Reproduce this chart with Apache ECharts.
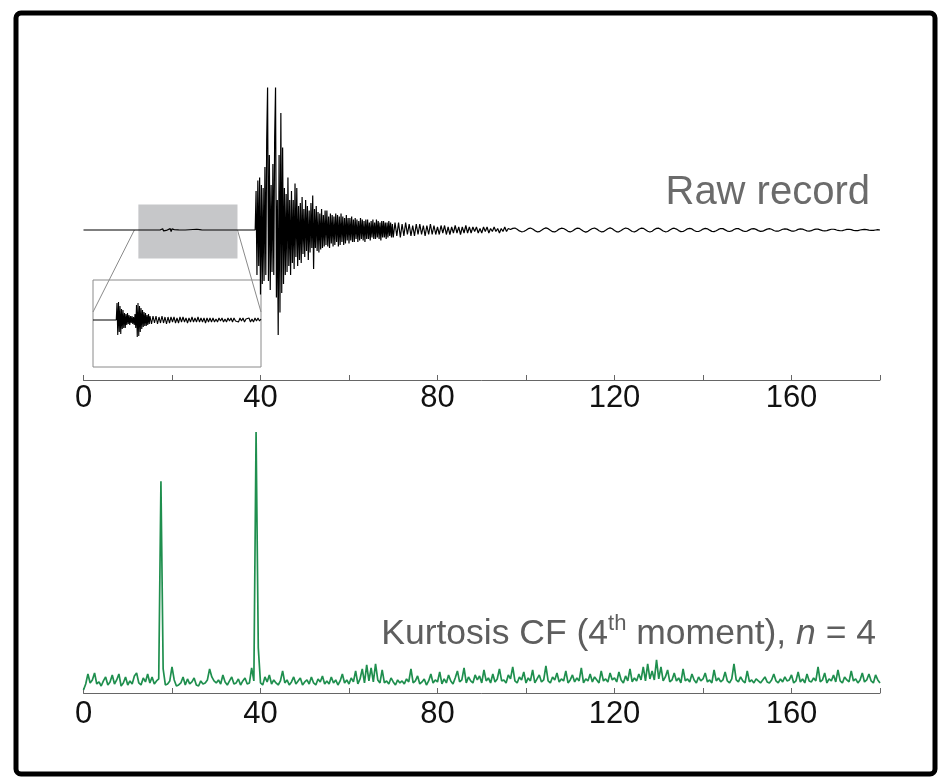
<!DOCTYPE html>
<html>
<head>
<meta charset="utf-8">
<script src="https://cdn.jsdelivr.net/npm/echarts@6/dist/echarts.min.js"></script>
<style>
  html, body { margin: 0; padding: 0; background: #fff; }
  #main { width: 938px; height: 777px; }
</style>
</head>
<body>
<div id="main"></div>
<script>
// time axis (s)
var xTicks = [0, 40, 80, 120, 160];

// raw record, quiet part before the main arrival: [t, amplitude]
var rawPre = [[0, 0], [17.3, 0], [17.5, 1.2], [17.7, -1.0], [17.9, 0.8], [18.1, -0.6], [18.4, 0.4],
  [18.7, -0.3], [19.0, 0.2], [19.6, 0.9], [19.8, -1.0], [20.0, 0.7], [20.2, -0.5], [20.5, 0.3],
  [20.9, -0.2], [21.5, 0.1], [23, 0], [25.6, 0.5], [25.9, -0.5], [26.3, 0.3], [26.8, 0], [38.8, 0]];

// raw record, main arrival: starts 38.8 s, one sample every 0.2 s
var rawOnset = [
  0, 26, -30, 33, -24, 35, -43, 30, -36, 28,
  -34, 42, -30, 60, 95, -34, 50, -40, 30, -28,
  44, -30, 62, 95, -45, 20, -70, 50, -55, 78,
  -42, 55, -36, 28, -30, 24, -28, 35, -24, 20,
  -30, 26, -22, 20, -26, 31, -18, 28, -24, 16,
  -20, 18, -22, 22, -16, 14, -18, 20, -14, 16,
  -20, 13, -15, 18, -12, 23, -26, 14, -12, 16,
  -14, 12, -15, 11, -13, 14, -12, 10, -11, 13,
  -10, 13, -11, 9, -12, 11, -9, 10, -11, 9,
  -10, 11, -8, 10, -11, 9, -10, 11, -8, 9,
  -10, 8, -9, 10, -7, 8, -9, 8, -7, 9,
  -8, 7, -8, 8, -6, 7, -8, 6, -7, 8,
  -6, 7, -7, 6, -8, 7, -6, 7, -6, 5,
  -7, 6, -5, 7, -6, 5, -6, 7, -5, 6,
  -6, 5, -7, 6, -5, 6, -5, 5, -6, 5,
  -5, 6, -4, 5, -5, 4, -5
];

// raw record, coda: starts 70.4 s, every 0.4 s
var rawCoda = [
  5, -4, 5, -5, 4, -4, 5, -3, 4, -4,
  3, -4, 4, -3, 4, -3, 3, -4, 3, -3,
  4, -3, 3, -3, 2, -3, 3, -2, 3, -3,
  2, -3, 2, -2, 3, -2, 2, -3, 2, -2,
  3, -2, 2, -2, 2, -1, 2, -2, 1, -2,
  2, -1, 2, -2, 1, -1, 2, -1, 1, -2,
  1, -1, 2, -1, 1
];

// raw record, long-period tail: starts 96.5 s, every 0.5 s
var rawTail = [
  0.3, 1.1, 1.3, 0.5, -0.6, -1.2, -1.0, -0.1, 0.9, 1.3, 0.7, -0.4,
  -1.2, -1.1, -0.2, 0.8, 1.4, 0.9, -0.2, -1.1, -1.3, -0.5, 0.6, 1.2,
  1.0, 0.1, -0.9, -1.3, -0.7, 0.4, 1.2, 1.1, 0.2, -0.8, -1.4, -0.9,
  0.1, 1.0, 1.3, 0.6, -0.5, -1.2, -1.1, -0.2, 0.8, 1.4, 0.8, -0.3,
  -1.2, -1.2, -0.3, 0.7, 1.3, 1.0, 0.0, -1.0, -1.3, -0.6, 0.5, 1.2,
  1.1, 0.2, -0.8, -1.3, -0.8, 0.3, 1.1, 1.2, 0.4, -0.7, -1.2, -1.0,
  0.0, 0.9, 1.2, 0.6, -0.4, -1.1, -1.0, -0.2, 0.8, 1.1, 0.7, -0.3,
  -1.0, -1.0, -0.3, 0.6, 1.1, 0.8, -0.1, -0.9, -1.1, -0.5, 0.4, 1.0,
  0.9, 0.1, -0.7, -1.0, -0.6, 0.3, 0.9, 0.9, 0.2, -0.6, -1.0, -0.7,
  0.1, 0.8, 0.9, 0.4, -0.4, -0.9, -0.8, -0.1, 0.6, 0.9, 0.5, -0.3,
  -0.8, -0.8, -0.2, 0.5, 0.8, 0.6, -0.1, -0.7, -0.8, -0.3, 0.4, 0.7,
  0.6, 0.0, -0.6, -0.7, -0.4, 0.2, 0.6, 0.6, 0.1, -0.4, -0.6, -0.4,
  0.1, 0.5, 0.5, 0.2, -0.3, -0.5, -0.4, 0.0, 0.4, 0.5, 0.2, -0.2,
  -0.4, -0.4, 0.0, 0.3, 0.4, 0.2, -0.1, -0.3, -0.3, 0.0, 0.2, 0.0
];

// zoomed window shown in the inset (s)
var insetRange = [12.4, 34.8];
var insetPre = [[12.4, 0], [15.5, 0]];
// inset, two small arrivals: starts 15.6 s, every 0.1 s
var insetBurst = [
  17, -15, 18, -12, 14, -14, 11, -9, 10, -8,
  7, -8, 6, -5, 7, -4, 5, -5, 4, -3,
  4, -4, 3, -5, 6, -8, 15, -17, 17, -16,
  14, -12, 12, -9, 10, -7, 8, -6, 7, -6,
  5, -5, 6, -4, 4
];
// inset tail: starts 20.2 s, every 0.2 s
var insetTail = [
  -4, 4, -3, 4, -4, 3, -3, 4, -3, 3, -4, 3, -3, 3, -2, 3, -3, 2, -3, 3,
  -2, 3, -2, 2, -3, 2, -2, 3, -2, 2, -2, 3, -2, 2, -2, 2, -3, 2, -2, 2, -2,
  2, -2, 1, -2, 2, -1, 2, -2, 1, -2, 2, -1, 2, -2, 2, -1, 1, -2, 2, -1, 2,
  -2, 1, -1, 2, -2, 1, -2, 2, -1, 2, -1, 1
];

// kurtosis characteristic function: starts 0 s, every 0.5 s
var kurtosis = [
  0.3, 0.9, 1.9, 1.0, 1.3, 2.0, 0.9, 1.1, 0.7, 1.2,
  1.6, 0.8, 1.1, 1.8, 0.9, 1.3, 1.9, 0.7, 1.0, 1.6,
  0.8, 1.2, 0.9, 1.7, 2.0, 1.0, 0.8, 1.5, 1.1, 1.9,
  1.0, 1.6, 0.9, 1.2, 1.4, 21.1, 2.4, 0.8, 0.9, 1.2,
  2.6, 1.3, 0.7, 0.8, 1.0, 1.6, 0.8, 1.4, 0.9, 1.1,
  1.5, 0.8, 0.7, 1.2, 0.9, 1.0, 1.3, 2.4, 1.6, 1.2,
  1.0, 1.3, 0.9, 1.8, 1.1, 0.8, 1.2, 1.6, 0.9, 1.0,
  1.4, 0.8, 1.2, 1.5, 0.9, 1.0, 2.5, 1.2, 26.0, 4.5,
  1.0, 0.8, 1.6, 1.1, 1.8, 0.9, 1.3, 1.0, 0.8, 1.2,
  2.2, 1.0, 1.3, 0.8, 1.1, 1.6, 0.9, 1.2, 1.5, 0.8,
  1.1, 1.3, 0.9, 1.6, 1.0, 0.8, 1.4, 1.1, 1.7, 0.9,
  1.2, 0.9, 1.6, 1.0, 1.3, 0.8, 1.2, 1.9, 1.0, 1.3,
  0.9, 1.5, 1.1, 2.2, 0.9, 1.4, 2.4, 1.0, 2.8, 1.2,
  2.5, 1.1, 2.9, 1.3, 1.0, 2.3, 1.0, 1.2, 0.9, 1.5,
  1.1, 0.8, 1.3, 1.0, 1.2, 0.9, 1.4, 1.1, 2.4, 1.0,
  1.2, 1.7, 0.9, 1.1, 1.4, 0.8, 1.2, 1.9, 1.0, 1.3,
  1.1, 2.1, 0.9, 1.4, 1.0, 1.8, 1.2, 0.9, 1.5, 2.2,
  1.1, 1.3, 2.5, 1.0, 1.6, 1.2, 1.0, 1.8, 1.3, 1.7,
  1.0, 2.3, 1.2, 1.5, 1.0, 1.9, 1.1, 1.4, 2.4, 1.2,
  1.3, 1.0, 1.8, 1.4, 2.6, 1.2, 1.0, 1.6, 1.3, 2.1,
  1.0, 1.5, 1.2, 2.3, 1.0, 1.4, 1.8, 1.1, 1.3, 2.7,
  1.2, 1.0, 1.6, 1.3, 2.0, 1.1, 1.4, 1.2, 2.2, 1.0,
  1.3, 1.8, 1.1, 1.5, 1.2, 2.5, 1.0, 1.4, 1.2, 1.9,
  1.1, 1.6, 1.3, 1.0, 2.2, 1.2, 1.4, 1.1, 2.0, 1.3,
  1.5, 1.1, 2.1, 1.3, 1.0, 1.7, 1.2, 2.4, 1.1, 1.5,
  1.2, 1.9, 1.3, 2.6, 1.2, 2.9, 1.4, 2.2, 1.3, 3.3,
  1.4, 2.6, 1.2, 1.6, 2.3, 1.1, 1.3, 2.0, 1.2, 1.5,
  1.0, 2.4, 1.2, 1.4, 1.1, 1.9, 1.3, 1.0, 1.6, 1.2,
  1.4, 2.0, 1.1, 1.3, 1.0, 2.3, 1.2, 1.5, 1.1, 1.3,
  2.1, 1.2, 1.0, 1.4, 2.9, 1.3, 1.1, 1.6, 1.2, 1.0,
  2.2, 1.1, 1.3, 1.0, 1.4, 1.2, 1.0, 1.3, 1.6, 1.1,
  1.0, 1.3, 1.9, 1.2, 1.0, 1.4, 1.1, 1.6, 1.2, 1.3,
  1.8, 1.0, 1.2, 2.1, 1.1, 1.4, 1.0, 1.9, 1.2, 1.1,
  1.5, 1.2, 2.6, 1.1, 1.3, 2.0, 1.0, 1.4, 1.2, 1.8,
  1.1, 2.3, 1.2, 1.0, 1.6, 1.3, 1.1, 2.2, 1.2, 1.4,
  1.0, 1.3, 2.0, 1.1, 1.3, 1.9, 1.2, 1.0, 1.8, 1.3, 1.0
];

function seg(start, step, vals) {
  return vals.map(function (v, i) {
    return [Math.round((start + i * step) * 100) / 100, v];
  });
}

var rawData = rawPre
  .concat(seg(39.0, 0.2, rawOnset.slice(1)))
  .concat(seg(70.4, 0.4, rawCoda))
  .concat(seg(96.5, 0.5, rawTail));
var insetData = insetPre
  .concat(seg(15.6, 0.1, insetBurst))
  .concat(seg(20.2, 0.2, insetTail));
var kurtData = seg(0, 0.5, kurtosis);

var tickFont = "Liberation Sans, Arial, sans-serif";

function timeAxis(gridIndex, margin) {
  return {
    type: "value",
    gridIndex: gridIndex,
    min: 0,
    max: 180,
    interval: 20,
    axisLine: { show: true, onZero: false, lineStyle: { color: "#666", width: 1 } },
    axisTick: { show: true, inside: true, length: 5, lineStyle: { color: "#666" } },
    splitLine: { show: false },
    axisLabel: {
      margin: margin,
      fontSize: 31,
      fontFamily: tickFont,
      color: "#111",
      formatter: function (v) {
        return xTicks.indexOf(v) >= 0 ? String(v) : "";
      }
    }
  };
}

var myChart = echarts.init(document.getElementById("main"), null, { renderer: "canvas" });

var myOption = {
  animation: false,
  backgroundColor: "#fff",
  grid: [
    { left: 83.5, right: 58, top: 80, height: 300 },
    { left: 83.5, right: 58, top: 432, bottom: 84 },
    { left: 93, top: 280, width: 168, height: 87, show: true, borderColor: "#8a8a8a", borderWidth: 1, backgroundColor: "transparent" }
  ],
  xAxis: [
    timeAxis(0, 3),
    timeAxis(1, 6),
    { type: "value", gridIndex: 2, min: insetRange[0], max: insetRange[1], show: false }
  ],
  yAxis: [
    { type: "value", gridIndex: 0, min: -100, max: 100, show: false },
    { type: "value", gridIndex: 1, min: 0, max: 26, show: false },
    { type: "value", gridIndex: 2, min: -47, max: 40, show: false }
  ],
  series: [
    {
      name: "Raw record",
      type: "line",
      xAxisIndex: 0,
      yAxisIndex: 0,
      data: rawData,
      showSymbol: false,
      sampling: "none",
      lineStyle: { color: "#000", width: 1.2 },
      z: 3,
      markArea: {
        silent: true,
        itemStyle: { color: "#c6c7c9", opacity: 1 },
        data: [[{ coord: [insetRange[0], 17] }, { coord: [insetRange[1], -19] }]]
      }
    },
    {
      name: "Inset",
      type: "line",
      xAxisIndex: 2,
      yAxisIndex: 2,
      data: insetData,
      showSymbol: false,
      sampling: "none",
      lineStyle: { color: "#000", width: 1.1 }
    },
    {
      name: "Kurtosis CF",
      type: "line",
      xAxisIndex: 1,
      yAxisIndex: 1,
      data: kurtData,
      showSymbol: false,
      sampling: "none",
      lineStyle: { color: "#1f8f4e", width: 1.7 }
    }
  ]
};
myChart.setOption(myOption);

// connector lines from the grey window to the inset box
var pL = myChart.convertToPixel({ gridIndex: 0 }, [11.5, 0]);
var pR = myChart.convertToPixel({ gridIndex: 0 }, [insetRange[1], 0]);
var qL = myChart.convertToPixel({ gridIndex: 2 }, [insetRange[0], 8]);
var qR = myChart.convertToPixel({ gridIndex: 2 }, [insetRange[1], 8]);

myChart.setOption({
  graphic: [
    {
      type: "rect",
      shape: { x: 16, y: 13, width: 919, height: 761, r: 5 },
      style: { fill: "none", stroke: "#000", lineWidth: 5 },
      silent: true
    },
    {
      type: "line",
      shape: { x1: pL[0], y1: pL[1], x2: qL[0], y2: qL[1] },
      style: { stroke: "#8a8a8a", lineWidth: 1 },
      silent: true
    },
    {
      type: "line",
      shape: { x1: pR[0], y1: pR[1], x2: qR[0], y2: qR[1] },
      style: { stroke: "#8a8a8a", lineWidth: 1 },
      silent: true
    },
    {
      type: "text",
      right: 68,
      top: 173,
      style: {
        text: "Raw record",
        fill: "#6b6b6b",
        font: "40px Liberation Sans, Arial, sans-serif"
      },
      silent: true
    },
    {
      type: "text",
      right: 62,
      top: 613,
      style: {
        text: "{a|Kurtosis CF (4}{s|th}{a| moment), }{i|n}{a| = 4}",
        rich: {
          a: { fontSize: 35.5, fontFamily: tickFont, fill: "#5e5e5e", color: "#5e5e5e", lineHeight: 42 },
          s: { fontSize: 22, fontFamily: tickFont, fill: "#5e5e5e", color: "#5e5e5e", verticalAlign: "top", lineHeight: 42 },
          i: { fontSize: 35.5, fontFamily: tickFont, fontStyle: "italic", fill: "#5e5e5e", color: "#5e5e5e", lineHeight: 42 }
        }
      },
      silent: true
    }
  ]
});
</script>
</body>
</html>
